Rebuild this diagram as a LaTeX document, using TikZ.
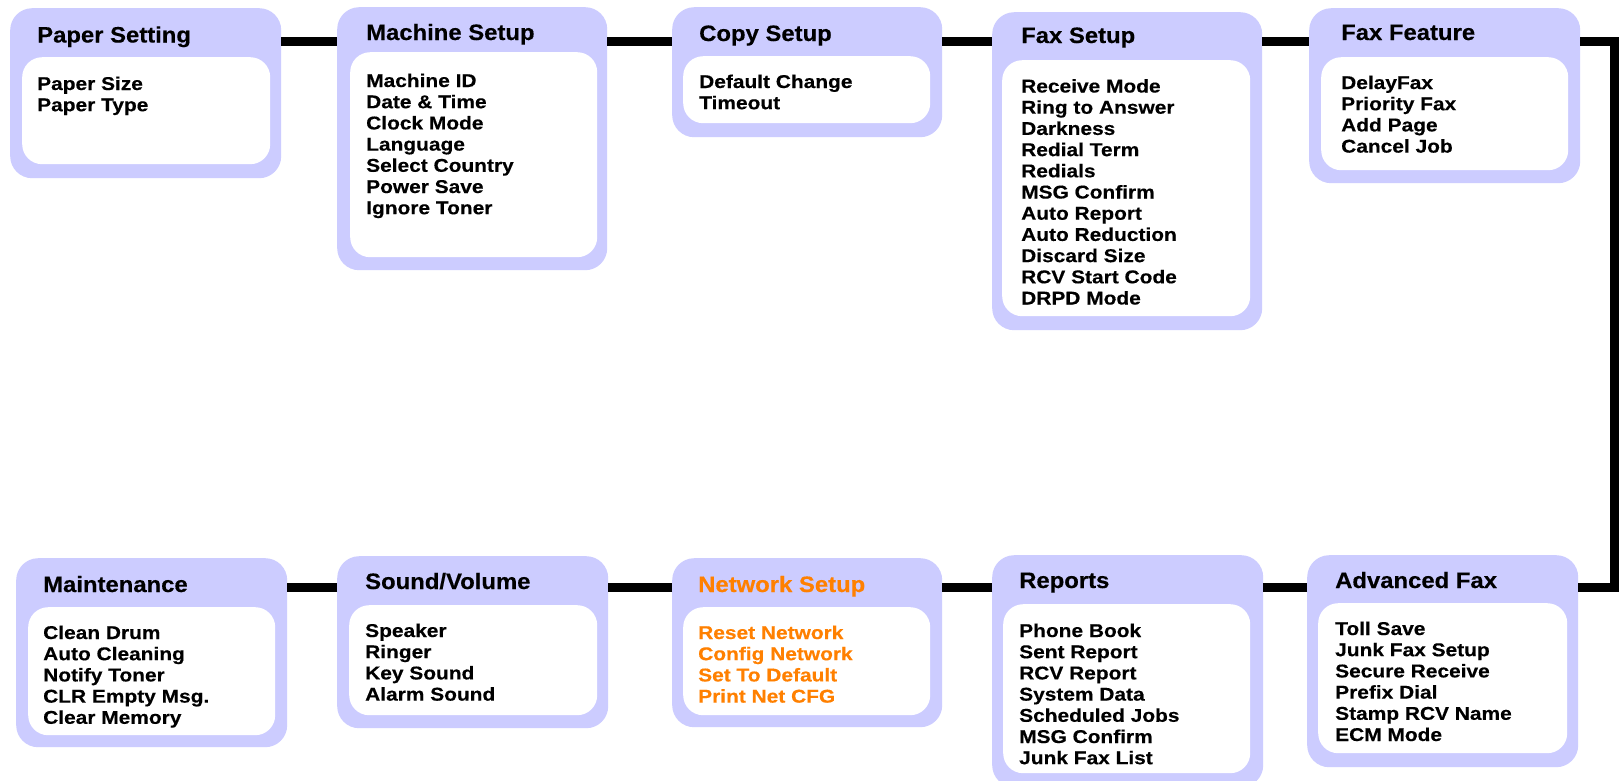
\documentclass[tikz,border=0pt]{standalone}
\usepackage{fontspec}
\setmainfont{Liberation Sans}
\newfontfamily\titlefam{Liberation Sans}[FakeStretch=1.07, BoldFeatures={FakeBold=0.35}]
\newfontfamily\itemfam{Liberation Sans}[FakeStretch=1.13, BoldFeatures={FakeBold=0.35}]
\definecolor{lav}{RGB}{204,204,255}
\definecolor{netorange}{RGB}{255,128,0}
\tikzset{
  outerbox/.style={fill=lav, rounded corners=22pt, inner sep=0pt, anchor=north west, draw=none},
  innerbox/.style={fill=white, rounded corners=20pt, inner sep=0pt, anchor=north west, draw=none},
  boxtitle/.style={anchor=base west, inner sep=0pt, font=\titlefam\bfseries\fontsize{22.3}{26}\selectfont},
  boxitems/.style={anchor=base west, inner sep=0pt, font=\itemfam\bfseries\fontsize{18.5}{21.2}\selectfont},
  conn/.style={line width=9.5pt, line join=miter, black},
}
\newcommand\itemlist[1]{\parbox[t]{245pt}{#1}}
\begin{document}
\begin{tikzpicture}[x=1pt,y=-1pt]
\useasboundingbox (0,0) rectangle (1619,780);
\clip (0,0) rectangle (1619,780);
\fill[white] (0,0) rectangle (1619,780);
\coordinate (r1) at (0,41.5);
\coordinate (r2) at (0,587.5);
\coordinate (ne) at (1614.5,41.5);
\coordinate (se) at (1614.5,587.5);

% Row 1
\node[outerbox, minimum width=271pt, minimum height=170pt] (paper) at (10,8) {};
\node[innerbox, minimum width=248pt, minimum height=107pt] (paperin) at (22,57) {};
\node[boxtitle] (papert) at (37,42.5) {Paper Setting};
\node[boxitems] (paperi) at (37,90) {\itemlist{Paper Size\\Paper Type}};

\node[outerbox, minimum width=270pt, minimum height=263pt] (machine) at (337,7) {};
\node[innerbox, minimum width=247pt, minimum height=205pt] (machinein) at (350,52) {};
\node[boxtitle] (machinet) at (366,40) {Machine Setup};
\node[boxitems] (machinei) at (366,87) {\itemlist{Machine ID\\Date \& Time\\Clock Mode\\Language\\Select Country\\Power Save\\Ignore Toner}};

\node[outerbox, minimum width=270pt, minimum height=130pt] (copy) at (672,7) {};
\node[innerbox, minimum width=247pt, minimum height=67pt] (copyin) at (683,56) {};
\node[boxtitle] (copyt) at (699,41) {Copy Setup};
\node[boxitems] (copyi) at (699,88) {\itemlist{Default Change\\Timeout}};

\node[outerbox, minimum width=270pt, minimum height=318pt] (faxsetup) at (992,12) {};
\node[innerbox, minimum width=248pt, minimum height=256pt] (faxsetupin) at (1002,60) {};
\node[boxtitle] (faxsetupt) at (1021,43) {Fax Setup};
\node[boxitems] (faxsetupi) at (1021,92.5) {\itemlist{Receive Mode\\Ring to Answer\\Darkness\\Redial Term\\Redials\\MSG Confirm\\Auto Report\\Auto Reduction\\Discard Size\\RCV Start Code\\DRPD Mode}};

\node[outerbox, minimum width=271pt, minimum height=175pt] (faxfeat) at (1309,8) {};
\node[innerbox, minimum width=247pt, minimum height=113pt] (faxfeatin) at (1321,57) {};
\node[boxtitle] (faxfeatt) at (1341,40) {Fax Feature};
\node[boxitems] (faxfeati) at (1341,89) {\itemlist{DelayFax\\Priority Fax\\Add Page\\Cancel Job}};

% Row 2
\node[outerbox, minimum width=271pt, minimum height=189pt] (maint) at (16,558) {};
\node[innerbox, minimum width=247pt, minimum height=128pt] (maintin) at (28,607) {};
\node[boxtitle] (maintt) at (43,592) {Maintenance};
\node[boxitems] (mainti) at (43,639) {\itemlist{Clean Drum\\Auto Cleaning\\Notify Toner\\CLR Empty Msg.\\Clear Memory}};

\node[outerbox, minimum width=271pt, minimum height=172pt] (sound) at (337,556) {};
\node[innerbox, minimum width=248pt, minimum height=110pt] (soundin) at (349,605) {};
\node[boxtitle] (soundt) at (365,589) {Sound/Volume};
\node[boxitems] (soundi) at (365,637) {\itemlist{Speaker\\Ringer\\Key Sound\\Alarm Sound}};

\node[outerbox, minimum width=270pt, minimum height=169pt] (network) at (672,558) {};
\node[innerbox, minimum width=247pt, minimum height=108pt] (networkin) at (683,607) {};
\node[boxtitle, text=netorange] (networkt) at (698,592) {Network Setup};
\node[boxitems, text=netorange] (networki) at (698,639) {\itemlist{Reset Network\\Config Network\\Set To Default\\Print Net CFG}};

\node[outerbox, minimum width=271pt, minimum height=232pt] (reports) at (992,555) {};
\node[innerbox, minimum width=247pt, minimum height=169pt] (reportsin) at (1003,604) {};
\node[boxtitle] (reportst) at (1019,588) {Reports};
\node[boxitems] (reportsi) at (1019,637) {\itemlist{Phone Book\\Sent Report\\RCV Report\\System Data\\Scheduled Jobs\\MSG Confirm\\Junk Fax List}};

\node[outerbox, minimum width=271pt, minimum height=212pt] (advfax) at (1307,555) {};
\node[innerbox, minimum width=249pt, minimum height=150pt] (advfaxin) at (1318,603) {};
\node[boxtitle] (advfaxt) at (1335,588) {Advanced Fax};
\node[boxitems] (advfaxi) at (1335,635) {\itemlist{Toll Save\\Junk Fax Setup\\Secure Receive\\Prefix Dial\\Stamp RCV Name\\ECM Mode}};

% Connectors
\draw[conn] (paper.east |- r1) -- (machine.west |- r1);
\draw[conn] (machine.east |- r1) -- (copy.west |- r1);
\draw[conn] (copy.east |- r1) -- (faxsetup.west |- r1);
\draw[conn] (faxsetup.east |- r1) -- (faxfeat.west |- r1);
\draw[conn] (faxfeat.east |- r1) -- (ne) -- (se) -- (advfax.east |- r2);
\draw[conn] (advfax.west |- r2) -- (reports.east |- r2);
\draw[conn] (reports.west |- r2) -- (network.east |- r2);
\draw[conn] (network.west |- r2) -- (sound.east |- r2);
\draw[conn] (sound.west |- r2) -- (maint.east |- r2);
\end{tikzpicture}
\end{document}
